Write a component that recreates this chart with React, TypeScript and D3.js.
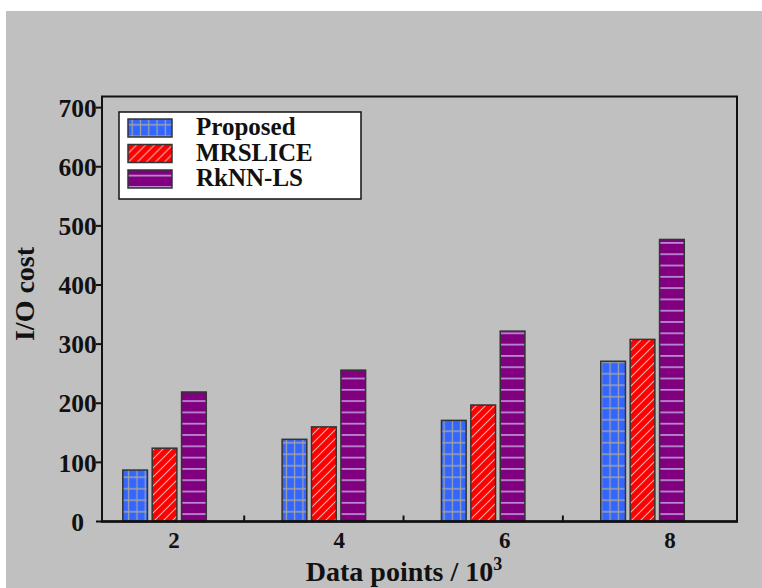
import React from 'react';
import * as d3 from 'd3';

// data points (x 10^3)
const categories = [2, 4, 6, 8];
const proposed = [87, 139, 171, 271];
const mrslice = [124, 160, 197, 308];
const rknnls = [219, 256, 322, 477];
const seriesNames = ['Proposed', 'MRSLICE', 'RkNN-LS'];
const yTicks = [0, 100, 200, 300, 400, 500, 600, 700];
const minorXTicks = [3, 5, 7];

const W = 762;
const H = 588;
const left = 102;
const right = 737;
const top = 96.5;
const bottom = 521.5;
const font = '"Liberation Serif", "Times New Roman", serif';

export default function App() {
  const x = d3.scaleLinear().domain([1.215, 9.186]).range([left, right]);
  // tick labels sit a little to the right of the groups in the original
  const xLabel = d3.scaleLinear().domain([2, 8]).range([174, 670]);
  const y = d3.scaleLinear().domain([0, 718.8]).range([bottom, top]);

  const barW = 0.31; // in data units
  const step = 0.369;
  const series = [
    { name: seriesNames[0], values: proposed, fill: 'url(#gridBlue)' },
    { name: seriesNames[1], values: mrslice, fill: 'url(#hatchRed)' },
    { name: seriesNames[2], values: rknnls, fill: 'url(#linesPurple)' },
  ];

  return (
    <svg
      width={W}
      height={H}
      style={{ position: 'absolute', left: 0, top: 0, background: '#fff' }}
    >
      <defs>
        <pattern id="gridBlue" patternUnits="userSpaceOnUse" width={8.3} height={11.5}>
          <rect width={8.3} height={11.5} fill="#3366ff" />
          <path d="M4.15,0V11.5M0,5.75H8.3" stroke="#a3a3a3" strokeWidth={1.2} />
        </pattern>
        <pattern id="hatchRed" patternUnits="userSpaceOnUse" width={9} height={9}>
          <rect width={9} height={9} fill="#ff0000" />
          <path d="M-2,2L2,-2M0,9L9,0M7,11L11,7" stroke="#f0b0b0" strokeWidth={1.1} />
        </pattern>
        <pattern id="linesPurple" patternUnits="userSpaceOnUse" width={10} height={11.3}>
          <rect width={10} height={11.3} fill="#800080" />
          <path d="M0,5.6H10" stroke="#c8aee6" strokeWidth={1.4} />
        </pattern>
      </defs>

      <rect x={6} y={11} width={W - 6} height={H - 11} fill="#c0c0c0" />

      {/* bars */}
      {series.map((s, si) => (
        <g key={s.name}>
          {categories.map((c, i) => {
            const cx = c + (si - 1) * step;
            const x0 = x(cx - barW / 2);
            const x1 = x(cx + barW / 2);
            return (
              <rect
                key={c}
                x={x0}
                y={y(s.values[i])}
                width={x1 - x0}
                height={y(0) - y(s.values[i])}
                fill={s.fill}
                stroke="#333"
                strokeWidth={1.5}
              />
            );
          })}
        </g>
      ))}

      {/* frame */}
      <rect
        x={left}
        y={top}
        width={right - left}
        height={bottom - top}
        fill="none"
        stroke="#111"
        strokeWidth={2}
      />
      <line x1={left - 1} x2={right + 1} y1={bottom} y2={bottom} stroke="#111" strokeWidth={2.5} />

      {/* y ticks */}
      {yTicks.map((t) => (
        <g key={t}>
          <line x1={left - 6} x2={left} y1={y(t)} y2={y(t)} stroke="#111" strokeWidth={2} />
          <text
            x={left - 24.5}
            y={y(t)}
            dy="0.36em"
            textAnchor="middle"
            fontFamily={font}
            fontWeight="bold"
            fontSize={25.5}
            fill="#111"
          >
            {t}
          </text>
        </g>
      ))}

      {/* x minor ticks */}
      {minorXTicks.map((t) => (
        <line key={t} x1={x(t)} x2={x(t)} y1={bottom} y2={bottom - 6} stroke="#111" strokeWidth={2} />
      ))}

      {/* x labels */}
      {categories.map((c) => (
        <text
          key={c}
          x={xLabel(c)}
          y={548}
          textAnchor="middle"
          fontFamily={font}
          fontWeight="bold"
          fontSize={23}
          fill="#111"
        >
          {c}
        </text>
      ))}

      {/* axis titles */}
      <text
        x={404}
        y={581}
        textAnchor="middle"
        fontFamily={font}
        fontWeight="bold"
        fontSize={28}
        fill="#111"
      >
        Data points / 10
        <tspan fontSize={18} dy={-11}>
          3
        </tspan>
      </text>
      <text
        transform={`translate(34,294) rotate(-90)`}
        textAnchor="middle"
        fontFamily={font}
        fontWeight="bold"
        fontSize={28}
        fill="#111"
      >
        I/O cost
      </text>

      {/* legend */}
      <rect x={119} y={112} width={242} height={87} fill="#fff" stroke="#111" strokeWidth={1.5} />
      {series.map((s, i) => (
        <g key={s.name} transform={`translate(128,${119 + i * 25.5})`}>
          <rect width={44} height={18} fill={s.fill} stroke="#333" strokeWidth={1.5} />
          <text
            x={68}
            y={16}
            fontFamily={font}
            fontWeight="bold"
            fontSize={25}
            fill="#111"
          >
            {s.name}
          </text>
        </g>
      ))}
    </svg>
  );
}
